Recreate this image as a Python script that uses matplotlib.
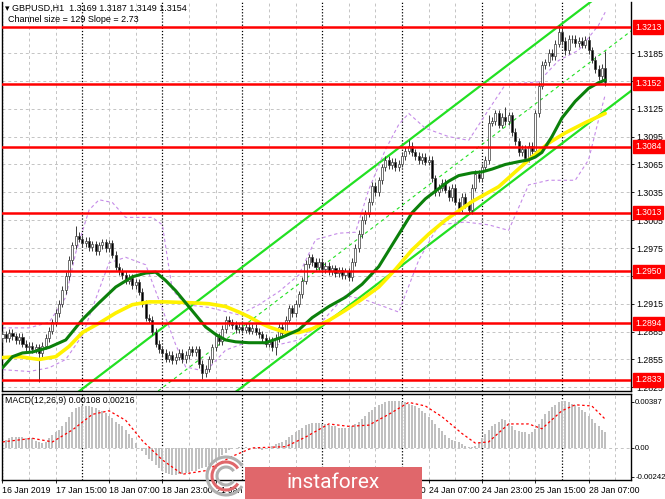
import matplotlib.pyplot as plt
import matplotlib.patches as patches
import matplotlib.transforms as mtransforms
import numpy as np

plt.rcParams['font.family'] = ['Liberation Sans', 'DejaVu Sans']

# GBPUSD H1, one value per hourly bar (16 Jan 23:00 ... 28 Jan 12:00)
closes = [
    1.2882, 1.2878, 1.2884, 1.2880, 1.2876, 1.2879, 1.2872, 1.2868, 1.2870, 1.2866,
    1.2868, 1.2862, 1.2870, 1.2878, 1.2886, 1.2895, 1.2905, 1.2915, 1.2930, 1.2945,
    1.2962, 1.2978, 1.2988, 1.2985, 1.2980, 1.2983, 1.2976, 1.2979, 1.2972, 1.2978,
    1.2981, 1.2975, 1.2980, 1.2968, 1.2955, 1.2950, 1.2946, 1.2940, 1.2943, 1.2935,
    1.2938, 1.2928, 1.2915, 1.2900, 1.2898, 1.2885, 1.2872, 1.2866, 1.2862, 1.2856,
    1.2860, 1.2854, 1.2858, 1.2862, 1.2855, 1.2860, 1.2866, 1.2863, 1.2866, 1.2850,
    1.2840, 1.2845, 1.2855, 1.2868, 1.2880, 1.2875, 1.2888, 1.2898, 1.2895, 1.2892,
    1.2888, 1.2890, 1.2887, 1.2890, 1.2886, 1.2889, 1.2885, 1.2882, 1.2878, 1.2872,
    1.2875, 1.2868, 1.2878, 1.2890, 1.2884, 1.2898, 1.2910, 1.2905, 1.2915, 1.2925,
    1.2940, 1.2958, 1.2965, 1.2960, 1.2955, 1.2960, 1.2952, 1.2956, 1.2950, 1.2953,
    1.2948, 1.2951, 1.2946, 1.2950, 1.2944, 1.2960, 1.2975, 1.2990, 1.3005, 1.3012,
    1.3025, 1.3042, 1.3035, 1.3048, 1.3062, 1.3070, 1.3064, 1.3068, 1.3062, 1.3066,
    1.3074, 1.3080, 1.3085, 1.3078, 1.3074, 1.3070, 1.3073, 1.3068, 1.3070, 1.3050,
    1.3035, 1.3040, 1.3045, 1.3038, 1.3030, 1.3040, 1.3025, 1.3018, 1.3030, 1.3022,
    1.3016, 1.3040, 1.3055, 1.3050, 1.3062, 1.3070, 1.3110, 1.3112, 1.3120, 1.3108,
    1.3116, 1.3112, 1.3118, 1.3100, 1.3090, 1.3078, 1.3082, 1.3072, 1.3085, 1.3080,
    1.3120, 1.3150, 1.3172, 1.3175, 1.3185, 1.3182, 1.3195, 1.3208, 1.3198, 1.3188,
    1.3200, 1.3200, 1.3196, 1.3198, 1.3194, 1.3199, 1.3188, 1.3178, 1.3168, 1.3160,
    1.3169, 1.3154,
]
first_open = 1.2878
wick = 0.0004
high_wicks = {22: 1.2999, 122: 1.3091, 146: 1.3118, 151: 1.3127, 167: 1.3215, 181: 1.3187}
low_wicks = {11: 1.2831, 60: 1.2834, 61: 1.2836, 82: 1.2860, 137: 1.3014, 140: 1.3012,
             169: 1.3183, 181: 1.3149}

# moving averages (green, yellow) sampled along the curves
green_bar = [0, 3, 6, 9, 14, 19, 24, 29, 34, 39, 43, 46, 49, 52, 55, 58, 61, 64, 67, 70,
             74, 79, 84, 89, 93, 98, 103, 108, 113, 118, 123, 127, 131, 134, 137, 141, 144,
             147, 151, 155, 158, 160, 162, 165, 168, 172, 176, 179, 181]
green_val = [1.2846, 1.2858, 1.2862, 1.2863, 1.2868, 1.2876, 1.2898, 1.2916, 1.2933, 1.2944,
             1.2948, 1.2949, 1.2940, 1.2929, 1.2916, 1.2903, 1.2890, 1.2882, 1.2876, 1.2874,
             1.2873, 1.2873, 1.2879, 1.2887, 1.2900, 1.2912, 1.2922, 1.2936, 1.2955, 1.2984,
             1.3013, 1.3028, 1.3039, 1.3047, 1.3053, 1.3056, 1.3057, 1.3060, 1.3065, 1.3068,
             1.3070, 1.3073, 1.3078, 1.3095, 1.3115, 1.3133, 1.3147, 1.3153, 1.3156]
yellow_bar = [0, 5, 11, 16, 20, 24, 29, 34, 39, 44, 49, 57, 62, 67, 71, 74, 77, 80, 85, 89,
              93, 98, 103, 108, 113, 118, 123, 128, 133, 137, 141, 145, 149, 154, 159, 164,
              169, 175, 181]
yellow_val = [1.2857, 1.2858, 1.2855, 1.2858, 1.2869, 1.2884, 1.2894, 1.2905, 1.2914, 1.2917,
              1.2917, 1.2916, 1.2915, 1.2912, 1.2906, 1.2901, 1.2895, 1.2890, 1.2884, 1.2884,
              1.2888, 1.2897, 1.2908, 1.2920, 1.2933, 1.2952, 1.2973, 1.2990, 1.3005, 1.3015,
              1.3025, 1.3033, 1.3041, 1.3057, 1.3073, 1.3088, 1.3099, 1.3110, 1.3120]

# bollinger-style bands (purple dashed)
band_up_bar = [0, 8, 14, 19, 22, 26, 29, 33, 37, 45, 48, 51, 55, 62, 71, 77, 83, 89, 94,
               101, 106, 110, 115, 119, 122, 127, 134, 140, 146, 151, 161, 167, 173, 179, 181]
band_up_val = [1.2889, 1.2889, 1.2895, 1.2922, 1.2970, 1.3016, 1.3027, 1.3024, 1.3008, 1.3008,
               1.3000, 1.2930, 1.2914, 1.2911, 1.2903, 1.2914, 1.2928, 1.2946, 1.2984,
               1.2991, 1.2992, 1.3038, 1.3081, 1.3108, 1.3120, 1.3104, 1.3095, 1.3091, 1.3124,
               1.3151, 1.3154, 1.3177, 1.3188, 1.3215, 1.3229]
band_lo_bar = [0, 8, 14, 19, 24, 29, 32, 37, 43, 47, 52, 55, 61, 67, 73, 83, 89, 95, 103,
               109, 113, 119, 125, 131, 139, 146, 152, 158, 164, 172, 176, 179, 181]
band_lo_val = [1.2844, 1.2842, 1.2846, 1.2855, 1.2881, 1.2930, 1.2959, 1.2965, 1.2957, 1.2919,
               1.2871, 1.2847, 1.2842, 1.2865, 1.2873, 1.2871, 1.2876, 1.2892, 1.2924,
               1.2919, 1.2914, 1.2906, 1.2962, 1.3000, 1.3003, 1.3000, 1.2994, 1.3043, 1.3048,
               1.3048, 1.3070, 1.3113, 1.3140]

# regression channel: size 129 pips, slope 2.73 pips per bar
chan_bar = 70
chan_low = 1.2820
chan_slope = 0.000273
chan_size = 0.0129

levels = [1.3213, 1.3152, 1.3084, 1.3013, 1.2950, 1.2894, 1.2833]
price_ticks = [1.3185, 1.3155, 1.3125, 1.3095, 1.3065, 1.3035, 1.3005, 1.2975,
               1.2945, 1.2915, 1.2885, 1.2855, 1.2825]

macd = [
    0.0006, 0.0007, 0.0008, 0.0009, 0.0009, 0.0009, 0.0009, 0.0008, 0.0008, 0.0008,
    0.0006, 0.0005, 0.0004, 0.0005, 0.0008, 0.0011, 0.0013, 0.0015, 0.0018, 0.0022,
    0.0026, 0.0030, 0.0033, 0.0034, 0.0035, 0.0035, 0.0035, 0.0034, 0.0033, 0.0032,
    0.0031, 0.0029, 0.0027, 0.0025, 0.0022, 0.0020, 0.0018, 0.0015, 0.0012, 0.0008,
    0.0004, 0.0000, -0.0003, -0.0006, -0.0009, -0.0011, -0.0014, -0.0017, -0.0019, -0.0021,
    -0.0022, -0.0023, -0.0023, -0.0022, -0.0022, -0.0021, -0.0020, -0.0019, -0.0019, -0.0018,
    -0.0017, -0.0016, -0.0014, -0.0012, -0.0010, -0.0008, -0.0006, -0.0004, -0.0002, -0.0001,
    0.0000, 0.0001, 0.0001, 0.0001, 0.0000, 0.0000, -0.0001, -0.0001, -0.0002, -0.0001,
    0.0000, 0.0002, 0.0003, 0.0004, 0.0005, 0.0007, 0.0009, 0.0011, 0.0013, 0.0015,
    0.0017, 0.0019, 0.0020, 0.0021, 0.0021, 0.0021, 0.0020, 0.0020, 0.0019, 0.0018,
    0.0018, 0.0017, 0.0017, 0.0017, 0.0017, 0.0018, 0.0020, 0.0022, 0.0024, 0.0027,
    0.0030, 0.0032, 0.0034, 0.0036, 0.0037, 0.0038, 0.0039, 0.0039, 0.0039, 0.0039,
    0.0038, 0.0038, 0.0037, 0.0036, 0.0035, 0.0033, 0.0031, 0.0029, 0.0026, 0.0023,
    0.0020, 0.0017, 0.0014, 0.0011, 0.0008, 0.0007, 0.0006, 0.0005, 0.0003, 0.0002,
    0.0001, 0.0001, 0.0002, 0.0004, 0.0008, 0.0012, 0.0015, 0.0018, 0.0020, 0.0022,
    0.0024, 0.0023, 0.0021, 0.0018, 0.0015, 0.0014, 0.0013, 0.0013, 0.0012, 0.0013,
    0.0016, 0.0020, 0.0024, 0.0028, 0.0031, 0.0034, 0.0036, 0.0038, 0.0039, 0.0039,
    0.0038, 0.0037, 0.0036, 0.0034, 0.0032, 0.0030, 0.0027, 0.0024, 0.0021, 0.0018,
    0.0015, 0.0013,
]
sig_bar = [0, 9, 15, 21, 27, 32, 37, 42, 48, 54, 61, 69, 75, 85, 91, 98, 104, 110, 116,
           122, 127, 132, 138, 142, 146, 152, 158, 162, 168, 172, 177, 181]
sig_val = [0.0005, 0.0008, 0.0005, 0.0015, 0.0028, 0.0031, 0.0023, 0.0006, -0.0010, -0.0022,
           -0.0019, -0.0007, 0.0000, 0.0001, 0.0009, 0.0020, 0.0018, 0.0019, 0.0028,
           0.0038, 0.0035, 0.0026, 0.0012, 0.0004, 0.0005, 0.0020, 0.0020, 0.0016, 0.0031,
           0.0036, 0.0035, 0.0024]
macd_ticks = [0.00387, 0.0, -0.00242]
macd_tick_labels = ['0.00387', '0.00', '-0.00242']

date_bars = [0, 16, 32, 48, 64, 80, 96, 112, 128, 144, 160, 176]
date_labels = ['16 Jan 2019', '17 Jan 15:00', '18 Jan 07:00', '18 Jan 23:00', '21 Jan 15:00',
               '22 Jan 07:00', '22 Jan 23:00', '23 Jan 15:00', '24 Jan 07:00', '24 Jan 23:00',
               '25 Jan 15:00', '28 Jan 07:00']

n = len(closes)
idx = np.arange(n)
opens = [first_open] + closes[:-1]
highs = [high_wicks.get(i, max(opens[i], closes[i]) + wick) for i in range(n)]
lows = [low_wicks.get(i, min(opens[i], closes[i]) - wick) for i in range(n)]

W, H = 665, 499
fig = plt.figure(figsize=(W / 100, H / 100), dpi=100)
ax = fig.add_axes([2 / W, 1 - 391 / H, 629 / W, 389 / H])
ax2 = fig.add_axes([2 / W, 1 - 480 / H, 629 / W, 86 / H])

xlim = (-0.15, 188.75)
grid_kw = dict(color='#c4c4c4', lw=0.7, ls=(0, (3, 3)), zorder=0)
sep_kw = dict(color='black', lw=0.9, ls=(0, (1, 1.5)), zorder=0.5)
for a in (ax, ax2):
    for b in range(0, 189, 8):
        if b % 24 == 0:
            a.axvline(b, **sep_kw)
        else:
            a.axvline(b, **grid_kw)
for p in price_ticks:
    ax.axhline(p, **grid_kw)
ax2.axhline(0, **grid_kw)

# channel
cx = np.array([-20, 200])
lo_line = chan_low + chan_slope * (cx - chan_bar)
ax.plot(cx, lo_line, color='#22e022', lw=1.6, zorder=2)
ax.plot(cx, lo_line + chan_size, color='#22e022', lw=1.6, zorder=2)
ax.plot(cx, lo_line + chan_size / 2, color='#22e022', lw=0.8, ls=(0, (3, 3)), zorder=2)

# bands
ax.plot(band_up_bar, band_up_val, color='#c58be8', lw=0.8, ls=(0, (3, 2.5)), zorder=2)
ax.plot(band_lo_bar, band_lo_val, color='#c58be8', lw=0.8, ls=(0, (3, 2.5)), zorder=2)

# candles
ax.vlines(idx, lows, highs, color='#3a3a3a', lw=0.7, zorder=3)
body_lo = [min(o, c) for o, c in zip(opens, closes)]
body_h = [max(abs(c - o), 0.00004) for o, c in zip(opens, closes)]
fills = ['white' if c >= o else 'black' for o, c in zip(opens, closes)]
ax.bar(idx, body_h, bottom=body_lo, width=0.62, color=fills, edgecolor='#3a3a3a',
       linewidth=0.5, zorder=4)

# moving averages
ax.plot(yellow_bar, yellow_val, color='#fff200', lw=2.6, zorder=5,
        solid_capstyle='round', solid_joinstyle='round')
ax.plot(green_bar, green_val, color='#0b800b', lw=2.2, zorder=6,
        solid_capstyle='round', solid_joinstyle='round')

# horizontal levels
trans = mtransforms.blended_transform_factory(ax.transAxes, ax.transData)
for lv in levels:
    ax.axhline(lv, color='#ff0000', lw=1.8, zorder=7)
    ax.text(1.0 + 4 / 629, lv, f'{lv:.4f}', transform=trans, color='white', fontsize=6.2,
            va='center', ha='left', zorder=10, clip_on=False,
            bbox=dict(boxstyle='square,pad=0.25', fc='#ff0000', ec='#ff0000'))

ax.set_xlim(*xlim)
ax.set_ylim(1.2821, 1.3240)
ax.yaxis.tick_right()
ax.set_yticks(price_ticks)
ax.set_yticklabels(['' if p == 1.3155 else f'{p:.4f}' for p in price_ticks])
ax.tick_params(axis='y', labelsize=6.3, length=2.5, width=0.6, pad=1.5, colors='black')
ax.set_xticks([])
ax.spines['top'].set_visible(False)
for s in ('left', 'right', 'bottom'):
    ax.spines[s].set_linewidth(1.0)

# MACD panel
ax2.bar(idx, macd, width=0.6, color='#c0c0c0', zorder=2)
ax2.plot(sig_bar, sig_val, color='#ff0000', lw=0.9, ls=(0, (2, 2)), zorder=3)
ax2.set_xlim(*xlim)
ax2.set_ylim(-0.00268, 0.0045)
ax2.yaxis.tick_right()
ax2.set_yticks(macd_ticks)
ax2.set_yticklabels(macd_tick_labels)
ax2.tick_params(axis='y', labelsize=5.6, length=2, width=0.6, pad=1)
ax2.set_xticks(date_bars)
ax2.set_xticklabels(date_labels)
ax2.tick_params(axis='x', labelsize=6.3, length=2.5, width=0.6, pad=2)
for lab in ax2.get_xticklabels():
    lab.set_horizontalalignment('left')
for s in ax2.spines.values():
    s.set_linewidth(1.0)
ax2.text(3 / 629, 0.93, 'MACD(12,26,9) 0.00108 0.00216', transform=ax2.transAxes,
         fontsize=6.3, va='center', ha='left', zorder=10)

# header
fig.text(5 / W, 1 - 8 / H, '\u25be GBPUSD,H1  1.3169 1.3187 1.3149 1.3154', fontsize=6.5,
         va='center', ha='left', family=['Liberation Sans', 'DejaVu Sans'])
fig.text(8 / W, 1 - 19.5 / H, 'Channel size = 129 Slope = 2.73', fontsize=6.5,
         va='center', ha='left')

# watermark
fig.add_artist(patches.Rectangle((245 / W, 0), 177 / W, 32 / H, transform=fig.transFigure,
                                 fc='#e0676b', ec='none', zorder=20))
fig.text(333 / W, 1 - 483 / H, 'instaforex', color='white', fontsize=15, family='Roboto',
         va='center', ha='center', zorder=21)
cx0, cy0 = 226, 476
for r, col in [(19, '#b0b0b0'), (14, '#e0676b'), (9, '#b0b0b0')]:
    fig.add_artist(patches.Arc((cx0 / W, 1 - cy0 / H), 2 * r / W, 2 * r / H, theta1=40,
                               theta2=320, transform=fig.transFigure, color=col, lw=2.2,
                               zorder=20))

fig.savefig('out.png', dpi=100)
